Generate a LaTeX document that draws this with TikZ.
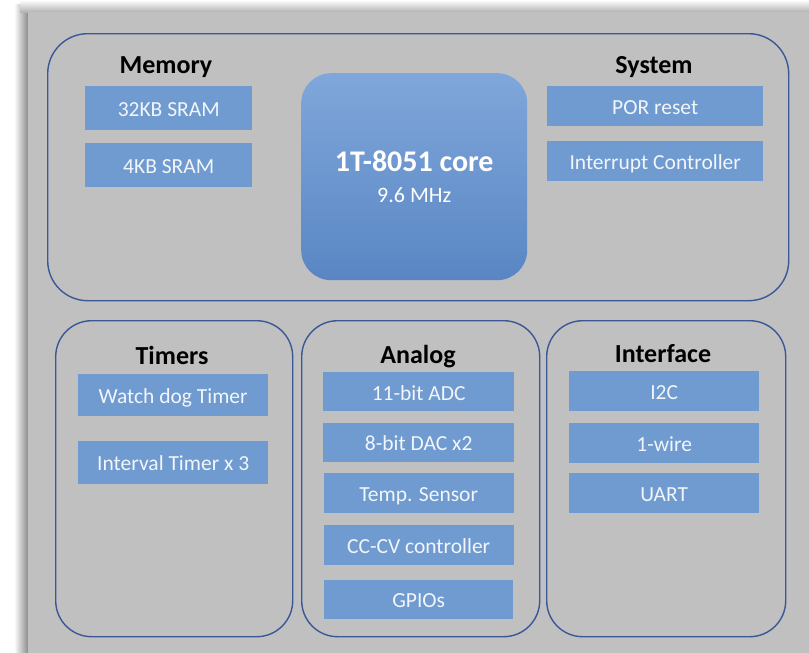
\documentclass[tikz,border=0pt]{standalone}
\usepackage{fontspec}
\setmainfont{Carlito}
\usetikzlibrary{positioning}
\definecolor{panelgray}{HTML}{C0C0C0}
\definecolor{frameblue}{HTML}{3A5896}
\definecolor{itemblue}{HTML}{6F9BD0}
\definecolor{itemtext}{HTML}{F2F5FA}
\definecolor{coretop}{HTML}{80A7DB}
\definecolor{corebot}{HTML}{5986C3}

\begin{document}
\begin{tikzpicture}[
  x=1pt, y=-1pt,
  node distance=12pt,
  group/.style={draw=frameblue, line width=1.4pt, rounded corners=40pt, minimum height=316pt, minimum width=238pt, anchor=north west},
  item/.style={fill=itemblue, text=itemtext, inner sep=0pt, font=\fontsize{21.5}{24}\selectfont, text height=17pt, text depth=0pt},
  title/.style={anchor=base, font=\bfseries\fontsize{26}{30}\selectfont},
  core/.style={top color=coretop, bottom color=corebot, rounded corners=30pt, text=white, align=center, inner sep=0pt, font=\fontsize{22}{31}\selectfont}
]
\useasboundingbox (0,0) rectangle (809,653);
% page, shadow and panel
\fill[white] (0,0) rectangle (809,653);
\shade[left color=white, right color=black!45] (14,4) rectangle (28,653);
\shade[top color=white, bottom color=black!30] (20,0) rectangle (809,12);
\fill[panelgray] (28,12) rectangle (809,653);

% groups
\node[group, minimum width=741pt, minimum height=267pt] (cpu) at (47,33) {};
\node[group, rounded corners=36pt, minimum width=237pt] (timers) at (55,320) {};
\node[group, rounded corners=36pt] (analog) at (301,320) {};
\node[group, rounded corners=36pt, minimum width=239pt] (iface) at (546,320) {};

% core
\node[core, minimum width=226pt, minimum height=207pt, anchor=north west] (core) at (301,73)
  {{\bfseries\fontsize{30}{31}\selectfont 1T-8051 core}\\9.6 MHz};

% memory
\node[title] (memtitle) at (166,73) {Memory};
\node[item, anchor=north west, minimum width=167pt, minimum height=44pt] (sram32) at (85,86) {32KB SRAM};
\node[item, below=of sram32, minimum width=167pt, minimum height=44pt] (sram4) {4KB SRAM};

% system
\node[title] (systitle) at (654,73) {System};
\node[item, anchor=north west, minimum width=216pt, minimum height=40pt] (por) at (547,86) {POR reset};
\node[item, below=14pt of por, minimum width=216pt, minimum height=40pt] (irq) {Interrupt Controller};

% timers
\node[title] (timtitle) at (172,364) {Timers};
\node[item, anchor=north west, minimum width=190pt, minimum height=42pt] (wdt) at (78,374) {Watch dog Timer};
\node[item, below=24pt of wdt, minimum width=190pt, minimum height=43pt] (itv) {Interval Timer x 3};

% analog
\node[title] (anatitle) at (418,363) {Analog};
\node[item, anchor=north west, minimum width=191pt, minimum height=39pt] (adc) at (323,372) {11-bit ADC};
\node[item, below=11pt of adc, minimum width=191pt, minimum height=39pt] (dac) {8-bit DAC x2};
\node[item, below=11pt of dac, minimum width=190pt, minimum height=40pt] (temp) {Temp. Sensor};
\node[item, below=12pt of temp, minimum width=190pt, minimum height=40pt] (cccv) {CC-CV controller};
\node[item, below=14pt of cccv, minimum width=189pt, minimum height=39pt] (gpio) {GPIOs};

% interface
\node[title] (iftitle) at (663,362) {Interface};
\node[item, anchor=north west, minimum width=190pt, minimum height=40pt] (i2c) at (569,371) {I2C};
\node[item, below=11pt of i2c, minimum width=190pt, minimum height=40pt] (wire) {1-wire};
\node[item, below=10pt of wire, minimum width=190pt, minimum height=40pt] (uart) {UART};
\end{tikzpicture}
\end{document}
